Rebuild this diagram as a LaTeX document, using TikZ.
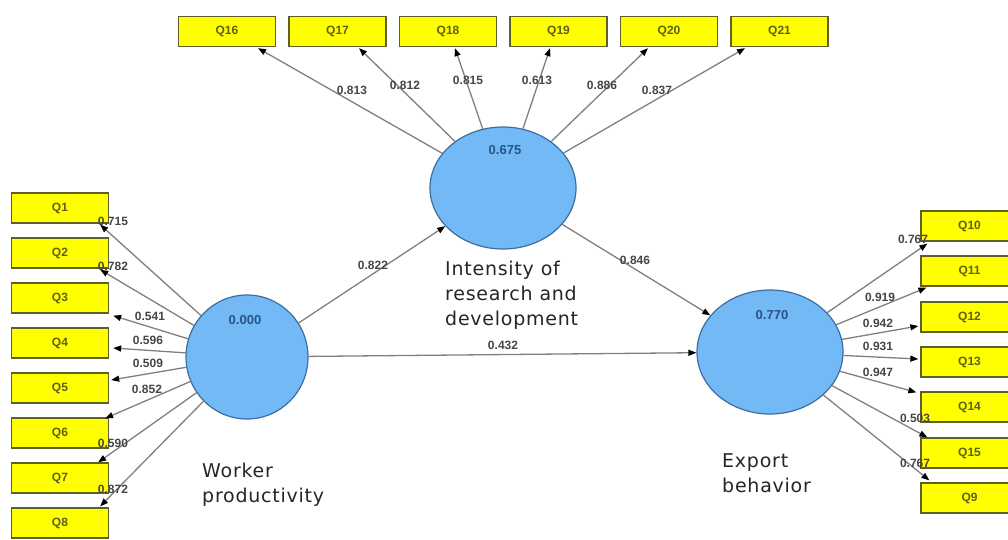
\documentclass[tikz,border=0pt]{standalone}
\usepackage{fontspec}
\setmainfont{Liberation Sans}
\newfontfamily\capfont[LetterSpace=4]{DejaVu Sans}
\usetikzlibrary{arrows.meta,shapes.geometric}
\definecolor{boxfill}{RGB}{255,255,0}
\definecolor{boxline}{RGB}{95,95,40}
\definecolor{qtext}{RGB}{95,95,25}
\definecolor{latfill}{RGB}{115,185,245}
\definecolor{latline}{RGB}{60,110,160}
\definecolor{lattext}{RGB}{40,85,135}
\definecolor{edgegray}{RGB}{128,128,128}
\definecolor{lbl}{RGB}{70,70,70}
\begin{document}
\begin{tikzpicture}[x=1pt,y=-1pt,
 ind/.style={draw=boxline,fill=boxfill,line width=1.3pt,minimum width=97pt,minimum height=30pt,inner sep=0pt,font=\bfseries\fontsize{12}{12}\selectfont,text=qtext},
 lat/.style={ellipse,draw=latline,fill=latfill,line width=1.2pt,inner sep=0pt},
 val/.style={font=\bfseries\fontsize{13}{13}\selectfont,text=lattext,inner sep=0pt},
 con/.style={draw=edgegray,line width=1.3pt,-{Triangle[length=8pt,width=6pt,color=black]}},
 lab/.style={font=\bfseries\fontsize{12}{12}\selectfont,text=lbl,inner sep=0pt},
 constructname/.style={font=\capfont\fontsize{19}{25}\selectfont,align=left,anchor=west,inner sep=0pt,text=black!85}]
\useasboundingbox (0,0) rectangle (1008,539);
\clip (0,0) rectangle (1008,539);
\fill[white] (0,0) rectangle (1008,539);
% latent variables
\node[lat,minimum width=146pt,minimum height=122pt] (I) at (503,188) {};
\node[lat,minimum width=122pt,minimum height=124pt] (W) at (247,357) {};
\node[lat,minimum width=146pt,minimum height=124pt] (E) at (770,352) {};
\node[val] (vI) at (505,150) {0.675};
\node[val] (vW) at (245,320) {0.000};
\node[val] (vE) at (772,315) {0.770};
% top indicators
\node[ind] (Q16) at (227,31.5) {Q16};
\node[ind] (Q17) at (337.5,31.5) {Q17};
\node[ind] (Q18) at (448,31.5) {Q18};
\node[ind] (Q19) at (558.5,31.5) {Q19};
\node[ind] (Q20) at (669,31.5) {Q20};
\node[ind] (Q21) at (779.5,31.5) {Q21};
% left indicators
\node[ind] (Q1) at (60,208) {Q1};
\node[ind] (Q2) at (60,253) {Q2};
\node[ind] (Q3) at (60,298) {Q3};
\node[ind] (Q4) at (60,343) {Q4};
\node[ind] (Q5) at (60,388) {Q5};
\node[ind] (Q6) at (60,433) {Q6};
\node[ind] (Q7) at (60,478) {Q7};
\node[ind] (Q8) at (60,523) {Q8};
% right indicators
\node[ind] (Q10) at (969.5,226) {Q10};
\node[ind] (Q11) at (969.5,271) {Q11};
\node[ind] (Q12) at (969.5,317) {Q12};
\node[ind] (Q13) at (969.5,362) {Q13};
\node[ind] (Q14) at (969.5,407) {Q14};
\node[ind] (Q15) at (969.5,453) {Q15};
\node[ind] (Q9) at (969.5,498) {Q9};
% connectors top
\draw[con] (I) -- ([shift={(31,1)}]Q16.south);
\draw[con] (I) -- ([shift={(21.5,1)}]Q17.south);
\draw[con] (I) -- ([shift={(7,1)}]Q18.south);
\draw[con] (I) -- ([shift={(-8.5,1)}]Q19.south);
\draw[con] (I) -- ([shift={(-21,1)}]Q20.south);
\draw[con] (I) -- ([shift={(-34.5,1)}]Q21.south);
% connectors left
\draw[con] (W) -- ([shift={(-9,1)}]Q1.south east);
\draw[con] (W) -- ([shift={(-9,1)}]Q2.south east);
\draw[con] (W) -- ([shift={(4,2)}]Q3.south east);
\draw[con] (W) -- ([shift={(4,5)}]Q4.east);
\draw[con] (W) -- ([shift={(2,-8)}]Q5.east);
\draw[con] (W) -- ([shift={(-4,1)}]Q6.north east);
\draw[con] (W) -- ([shift={(-11,0)}]Q7.north east);
\draw[con] (W) -- ([shift={(-9,-1)}]Q8.north east);
% connectors right
\draw[con] (E) -- ([shift={(7,2)}]Q10.south west);
\draw[con] (E) -- ([shift={(6,1)}]Q11.south west);
\draw[con] (E) -- ([shift={(-2,9)}]Q12.west);
\draw[con] (E) -- ([shift={(-2,-3)}]Q13.west);
\draw[con] (E) -- ([shift={(-4,1)}]Q14.north west);
\draw[con] (E) -- ([shift={(7,0)}]Q15.north west);
\draw[con] (E) -- ([shift={(9,-2)}]Q9.north west);
% structural paths
\draw[con] (W) -- (I);
\draw[con] (I) -- (E);
\draw[con] (W) -- (E);
% loadings
\node[lab] (l16) at (352,90) {0.813};
\node[lab] (l17) at (405,85) {0.812};
\node[lab] (l18) at (468,80) {0.815};
\node[lab] (l19) at (537,80) {0.613};
\node[lab] (l20) at (602,85) {0.886};
\node[lab] (l21) at (657,90) {0.837};
\node[lab] (l1) at (113,221) {0.715};
\node[lab] (l2) at (113,266) {0.782};
\node[lab] (l3) at (150,316) {0.541};
\node[lab] (l4) at (148,340) {0.596};
\node[lab] (l5) at (148,363) {0.509};
\node[lab] (l6) at (147,389) {0.852};
\node[lab] (l7) at (113,443) {0.590};
\node[lab] (l8) at (113,489) {0.872};
\node[lab] (l10) at (913,239) {0.767};
\node[lab] (l11) at (880,297) {0.919};
\node[lab] (l12) at (878,323) {0.942};
\node[lab] (l13) at (878,346) {0.931};
\node[lab] (l14) at (878,372) {0.947};
\node[lab] (l15) at (915,418) {0.503};
\node[lab] (l9) at (915,463) {0.767};
\node[lab] (lWI) at (373,265) {0.822};
\node[lab] (lIE) at (635,260) {0.846};
\node[lab] (lWE) at (503,345) {0.432};
% construct names
\node[constructname] (nI) at (445,295) {Intensity of\\research and\\development};
\node[constructname] (nW) at (202,485) {Worker\\productivity};
\node[constructname] (nE) at (722,473) {Export\\behavior};
\end{tikzpicture}
\end{document}
